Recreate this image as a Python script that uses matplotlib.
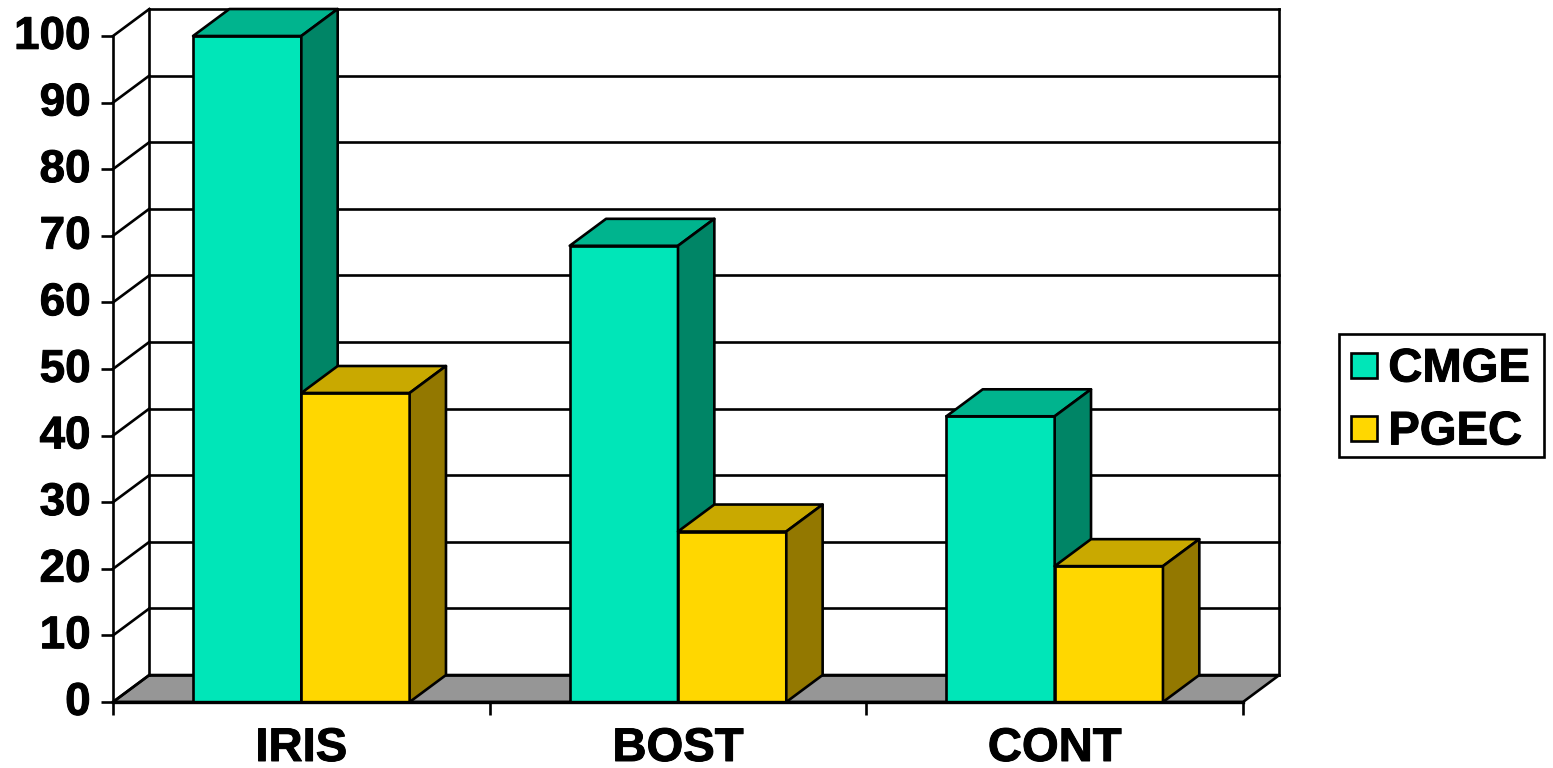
import matplotlib
matplotlib.use('Agg')
import matplotlib.pyplot as plt
import matplotlib.patheffects as pe
from matplotlib.legend_handler import HandlerPatch
from matplotlib.patches import Patch, Polygon, Rectangle
from matplotlib.transforms import ScaledTranslation

plt.rcParams['font.family'] = ['Liberation Sans', 'DejaVu Sans']
plt.rcParams['font.weight'] = 'bold'

categories = ['IRIS', 'BOST', 'CONT']
cmge = [100, 68.5, 42.9]
pgec = [46.4, 25.6, 20.4]
y_ticks = list(range(0, 101, 10))

# depth of the 3d box, in data units of each axis
DX = 0.0965
DY = 4.05
BAR_W = 0.2875
LW = 1.9

COL_CMGE = ('#00E6B8', '#00B48E', '#008566')  # front, top, side
COL_PGEC = ('#FFD700', '#C9A900', '#937800')

# thickens the glyphs a little
HEAVY = [pe.withStroke(linewidth=0.7, foreground='black')]


def draw_bar(ax, x, h, cols):
    ax.bar(x, h, width=BAR_W, align='edge', color=cols[0], edgecolor='black', linewidth=LW, zorder=3, clip_on=False)
    top = [(x, h), (x + BAR_W, h), (x + BAR_W + DX, h + DY), (x + DX, h + DY)]
    side = [(x + BAR_W, 0), (x + BAR_W + DX, DY), (x + BAR_W + DX, h + DY), (x + BAR_W, h)]
    ax.add_patch(Polygon(top, fc=cols[1], ec='black', lw=LW, joinstyle='round', zorder=3, clip_on=False))
    ax.add_patch(Polygon(side, fc=cols[2], ec='black', lw=LW, joinstyle='round', zorder=3, clip_on=False))


def swatch(legend, orig_handle, xdescent, ydescent, width, height, fontsize):
    # legend key sitting just above the text baseline
    return Rectangle((-xdescent, -ydescent), width, height - 1)


fig = plt.figure(figsize=(15.53, 7.68), dpi=100)
ax = fig.add_axes([113 / 1553, 66 / 768, 1130 / 1553, 666 / 768])
ax.set_xlim(0, 3)
ax.set_ylim(0, 100)

# floor
ax.add_patch(Polygon([(0, 0), (3, 0), (3 + DX, DY), (DX, DY)], fc='#969696', ec='black', lw=LW, zorder=1, clip_on=False))

# back wall gridlines and the left wall diagonals
for v in y_ticks:
    ax.plot([DX, 3 + DX], [v + DY, v + DY], color='black', lw=LW, zorder=2, clip_on=False, solid_capstyle='projecting')
    ax.plot([0, DX], [v, v + DY], color='black', lw=LW, zorder=2, clip_on=False)
ax.plot([DX, DX], [DY, 100 + DY], color='black', lw=LW, zorder=2, clip_on=False)
ax.plot([3 + DX, 3 + DX], [DY, 100 + DY], color='black', lw=LW, zorder=2, clip_on=False)

for i in range(len(categories)):
    draw_bar(ax, i + 0.5 - BAR_W, cmge[i], COL_CMGE)
    draw_bar(ax, i + 0.5, pgec[i], COL_PGEC)

for s in ['top', 'right']:
    ax.spines[s].set_visible(False)
ax.spines['left'].set_linewidth(LW)
ax.spines['bottom'].set_linewidth(2.4)
ax.spines['bottom'].set_zorder(4)
ax.patch.set_visible(False)

ax.set_yticks(y_ticks)
ax.set_xticks([0, 1, 2, 3])
ax.set_xticklabels([])
ax.set_xticks([0.5, 1.5, 2.5], categories, minor=True)
ax.tick_params(axis='y', length=9, width=LW, pad=7, labelsize=33)
ax.tick_params(axis='x', which='major', length=9, width=LW)
ax.tick_params(axis='x', which='minor', length=0, pad=18, labelsize=34)

# y labels sit a little above their ticks
nudge = ScaledTranslation(0, 3 / 72, fig.dpi_scale_trans)
for lab in ax.get_yticklabels():
    lab.set_transform(lab.get_transform() + nudge)
    lab.set_path_effects(HEAVY)
for lab in ax.get_xticklabels(minor=True):
    lab.set_path_effects(HEAVY)

# legend box, with the entries laid out inside it
fig.add_artist(Rectangle((1339 / 1553, 1 - 457 / 768), 205 / 1553, 123 / 768, transform=fig.transFigure,
                         fc='white', ec='black', lw=LW))
handles = [Patch(fc=COL_CMGE[0], ec='black', lw=LW), Patch(fc=COL_PGEC[0], ec='black', lw=LW)]
leg = fig.legend(handles, ['CMGE', 'PGEC'], loc='center left', bbox_to_anchor=(1351 / 1553, 1 - 401 / 768),
                 fontsize=34, frameon=False, handlelength=0.55, handleheight=0.47, handletextpad=0.24,
                 labelspacing=0.4, borderpad=0, borderaxespad=0,
                 handler_map={Patch: HandlerPatch(patch_func=swatch)})
for t in leg.get_texts():
    t.set_path_effects(HEAVY)

fig.savefig('out.png', dpi=100, facecolor='white')
